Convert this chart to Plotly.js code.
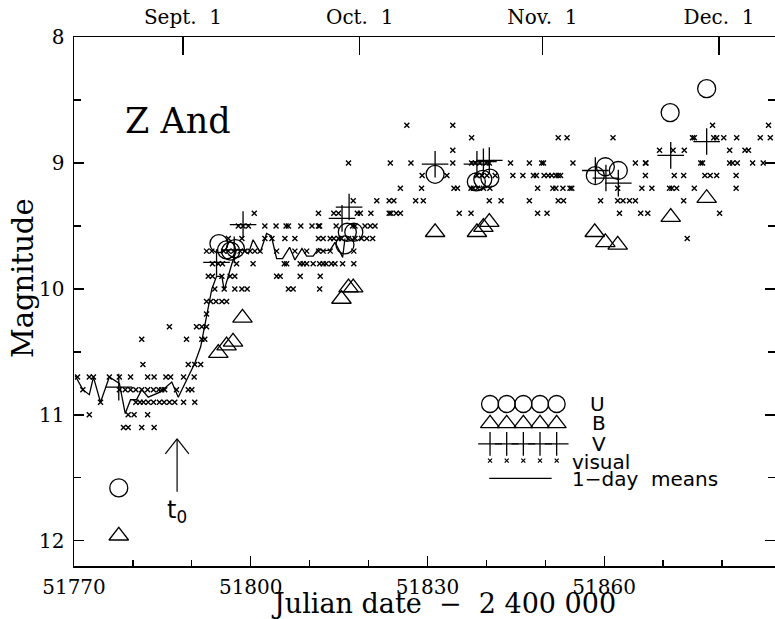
<!DOCTYPE html>
<html><head><meta charset="utf-8">
<script src="https://cdn.plot.ly/plotly-3.0.1.min.js"></script>
<style>html,body{margin:0;padding:0;background:#fff;} #chart{width:775px;height:619px;}</style>
</head><body><div id="chart"></div>
<script>
// ---------- data (JD - 2400000, magnitude) ----------
const visJD = [
 // 10.7
 51770.6,51772.6,51773.3,51776.0,51777.7,51779.6,51782.5,51783.6,51785.6,51786.4,51788.6,51790.4,
 // 10.8
 51771.5,51777.7,51778.7,51779.6,51780.5,51781.5,51782.5,51783.5,51784.4,51784.9,51785.4,51787.4,51789.4,51790.0,
 // 10.9
 51774.5,51780.5,51781.2,51781.8,51782.6,51783.5,51784.5,51785.3,51786.2,51787.1,51788.6,51790.5,
 // 11.0
 51772.6,51779.2,51780.2,51782.5,
 // 11.1
 51778.4,51779.2,51781.5,51783.6,
 // 10.6
 51781.7,51789.4,51790.5,51791.5,
 // 10.4
 51781.5,51789.1,51791.7,51792.2,
 // 10.3
 51786.2,51790.8,51791.7,51792.5,
 // 10.2
 51792.5,
 // 10.1
 51792.5,51793.2,51794.1,51795.1,51795.9,
 // 10.0
 51793.9,51795.5,51797.3,51798.5,51799.4,51806.4,51807.2,51811.7,
 // 9.9
 51792.8,51793.5,51795.1,51796.5,51797.3,51804.4,51805.0,51808.4,51811.8,
 // 9.8
 51793.5,51794.5,51795.2,51797.6,51800.4,51805.7,51806.1,51808.4,51808.9,51809.5,51810.6,51811.7,51812.3,51812.8,51813.7,51814.3,51815.6,51817.5,
 // 9.7
 51792.5,51793.4,51795.4,51796.2,51797.1,51798.2,51799.0,51799.9,51800.7,51801.6,51804.4,51807.5,51809.5,51811.5,51812.3,51813.5,51817.5,
 // 9.6
 51796.2,51798.5,51802.4,51803.6,51805.8,51807.5,51811.5,51812.3,51813.5,51814.1,51814.9,51815.4,51816.6,51817.7,51818.8,51819.7,51820.7,51874.1,
 // 9.5
 51797.9,51798.7,51799.6,51802.4,51804.3,51806.0,51806.4,51808.5,51810.4,51811.5,51811.7,51814.5,51817.3,51817.7,51819.4,51820.3,51821.1,
 // 9.4
 51800.6,51811.5,51814.1,51814.9,51818.1,51818.6,51820.4,51823.5,51823.8,51824.7,51825.4,51835.4,51837.4,51848.7,51850.3,51862.6,51866.2,51867.4,51879.6,
 // 9.3
 51817.4,51821.4,51823.5,51824.3,51828.0,51829.3,51840.5,51842.5,51847.3,51852.2,51853.1,51859.4,51862.3,51863.2,51864.3,51865.3,51873.5,
 // 9.2
 51825.4,51829.0,51834.5,51835.1,51837.4,51837.8,51838.5,51839.5,51840.6,51848.7,51851.3,51851.8,51853.0,51854.2,51854.5,51862.3,51866.4,51868.1,51871.1,51871.5,51872.3,51875.3,51882.4,
 // 9.1
 51829.1,51833.3,51838.4,51839.2,51840.1,51841.5,51844.5,51846.2,51848.0,51848.5,51849.8,51850.5,51851.1,51851.8,51852.2,51852.6,51867.0,51871.9,51873.5,51877.1,51878.0,51879.1,51882.4,
 // 9.0
 51816.6,51823.7,51827.2,51834.3,51837.5,51838.1,51838.9,51840.0,51840.5,51844.1,51847.3,51849.4,51849.7,51854.7,51865.3,51867.0,51867.1,51876.4,51876.7,51881.3,51881.8,51882.6,51885.2,51887.0,
 // 8.9
 51834.3,51869.4,51871.7,51873.6,51881.3,51883.9,51884.5,
 // 8.8
 51837.5,51852.2,51853.7,51861.5,51875.0,51875.3,51878.6,51879.1,51880.3,51882.5,51886.5,51888.2,
 // 8.7
 51826.5,51834.3,51878.4,51887.9
];
const visMag = [
 10.7,10.7,10.7,10.7,10.7,10.7,10.7,10.7,10.7,10.7,10.7,10.7,
 10.8,10.8,10.8,10.8,10.8,10.8,10.8,10.8,10.8,10.8,10.8,10.8,10.8,10.8,
 10.9,10.9,10.9,10.9,10.9,10.9,10.9,10.9,10.9,10.9,10.9,10.9,
 11.0,11.0,11.0,11.0,
 11.1,11.1,11.1,11.1,
 10.6,10.6,10.6,10.6,
 10.4,10.4,10.4,10.4,
 10.3,10.3,10.3,10.3,
 10.2,
 10.1,10.1,10.1,10.1,10.1,
 10.0,10.0,10.0,10.0,10.0,10.0,10.0,10.0,
 9.9,9.9,9.9,9.9,9.9,9.9,9.9,9.9,9.9,
 9.8,9.8,9.8,9.8,9.8,9.8,9.8,9.8,9.8,9.8,9.8,9.8,9.8,9.8,9.8,9.8,9.8,9.8,
 9.7,9.7,9.7,9.7,9.7,9.7,9.7,9.7,9.7,9.7,9.7,9.7,9.7,9.7,9.7,9.7,9.7,
 9.6,9.6,9.6,9.6,9.6,9.6,9.6,9.6,9.6,9.6,9.6,9.6,9.6,9.6,9.6,9.6,9.6,9.6,
 9.5,9.5,9.5,9.5,9.5,9.5,9.5,9.5,9.5,9.5,9.5,9.5,9.5,9.5,9.5,9.5,9.5,
 9.4,9.4,9.4,9.4,9.4,9.4,9.4,9.4,9.4,9.4,9.4,9.4,9.4,9.4,9.4,9.4,9.4,9.4,9.4,
 9.3,9.3,9.3,9.3,9.3,9.3,9.3,9.3,9.3,9.3,9.3,9.3,9.3,9.3,9.3,9.3,9.3,
 9.2,9.2,9.2,9.2,9.2,9.2,9.2,9.2,9.2,9.2,9.2,9.2,9.2,9.2,9.2,9.2,9.2,9.2,9.2,9.2,9.2,9.2,9.2,
 9.1,9.1,9.1,9.1,9.1,9.1,9.1,9.1,9.1,9.1,9.1,9.1,9.1,9.1,9.1,9.1,9.1,9.1,9.1,9.1,9.1,9.1,9.1,
 9.0,9.0,9.0,9.0,9.0,9.0,9.0,9.0,9.0,9.0,9.0,9.0,9.0,9.0,9.0,9.0,9.0,9.0,9.0,9.0,9.0,9.0,9.0,9.0,
 8.9,8.9,8.9,8.9,8.9,8.9,8.9,
 8.8,8.8,8.8,8.8,8.8,8.8,8.8,8.8,8.8,8.8,8.8,8.8,
 8.7,8.7,8.7,8.7
];
const meanJD = [51770.2,51771.5,51772.6,51773.3,51774.5,51776.0,51777.7,51778.7,51779.6,51780.6,51781.5,51782.6,51784.6,51786.6,51787.7,51789.1,51790.5,51791.5,51792.5,51793.4,51794.2,51795.1,51795.5,51796.2,51796.8,51797.6,51798.7,51799.6,51800.4,51801.6,51802.7,51803.5,51804.4,51805.4,51806.6,51807.5,51808.7,51809.5,51810.6,51811.5,51812.3,51813.5,51814.3,51815.2,51815.6,51816.0];
const meanMag = [10.69,10.80,10.84,10.70,10.90,10.70,10.75,10.99,10.88,10.88,10.80,10.86,10.82,10.74,10.86,10.72,10.59,10.46,10.21,10.00,9.90,9.90,10.01,9.89,9.80,9.69,9.69,9.72,9.61,9.71,9.56,9.58,9.76,9.76,9.67,9.77,9.68,9.74,9.74,9.68,9.70,9.69,9.63,9.71,9.75,9.60];

const uJD  = [51777.6,51794.6,51795.9,51796.6,51797.4,51816.0,51816.4,51817.5,51831.3,51838.3,51839.4,51840.6,51858.5,51860.2,51862.4,51871.2,51877.4];
const uMag = [11.58,9.64,9.69,9.70,9.68,9.65,9.55,9.55,9.09,9.15,9.13,9.12,9.10,9.03,9.06,8.60,8.41];
const bJD  = [51777.6,51794.5,51795.9,51797.0,51798.6,51815.4,51816.6,51817.4,51831.3,51838.4,51839.5,51840.5,51858.4,51860.2,51862.3,51871.3,51877.4];
const bMag = [11.96,10.51,10.45,10.42,10.23,10.08,9.99,9.99,9.55,9.55,9.51,9.47,9.55,9.63,9.65,9.43,9.28];
const vJD  = [51777.6,51794.2,51797.2,51798.7,51815.5,51816.7,51831.3,51838.4,51839.5,51840.5,51858.5,51860.3,51862.4,51871.3,51877.4];
const vMag = [10.78,9.79,9.69,9.49,9.44,9.35,9.01,9.01,8.99,8.98,9.06,9.12,9.16,8.94,8.83];

const monthTicks = [51788.5,51818.5,51849.5,51879.5];
const monthLabels = ['Sept.\u00a0 1','Oct.\u00a0 1','Nov.\u00a0 1','Dec.\u00a0 1'];
const t0JD = 51787.5;

// legend key slots
const keySlots = [1,2,3,4,5];
const keyLine = [0.95,4.7];
const keyNames = ['U','B','V','visual','1\u2212day\u00a0 means'];

// ---------- layout helpers ----------
const W=775,H=619,L=74,R=0,T=37,B=53;
const px = x => (x-L)/(W-L-R);
const py = y => (H-B-y)/(H-T-B);
const serif = 'DejaVu Serif';
const sans = 'DejaVu Sans';
const K = '#000';
const tickFont = {family:serif, size:20, color:K};

const traces = [
 {x: visJD, y: visMag, type:'scatter', mode:'markers',
  marker:{symbol:'x-thin', size:5, color:K, line:{color:K, width:1.4}}},
 {x: meanJD, y: meanMag, xaxis:'x2', yaxis:'y', type:'scatter', mode:'lines', line:{color:K, width:1.3}},
 {x: uJD, y: uMag, type:'scatter', mode:'markers', cliponaxis:false,
  marker:{symbol:'circle-open', size:18, color:K, line:{color:K, width:1.3}}},
 {x: bJD, y: bMag, type:'scatter', mode:'markers', cliponaxis:false,
  marker:{symbol:'triangle-up-open', size:17, color:K, line:{color:K, width:1.3}}},
 {x: vJD, y: vMag, type:'scatter', mode:'markers', cliponaxis:false,
  marker:{symbol:'cross-thin', size:19, color:K, line:{color:K, width:1.3}}},
 // legend key
 {x: keySlots, y: keySlots.map(()=>1), xaxis:'x3', yaxis:'y3', mode:'markers', cliponaxis:false,
  marker:{symbol:'circle-open', size:17, color:K, line:{color:K, width:1.3}}},
 {x: keySlots, y: keySlots.map(()=>2.05), xaxis:'x3', yaxis:'y3', mode:'markers', cliponaxis:false,
  marker:{symbol:'triangle-up-open', size:16.5, color:K, line:{color:K, width:1.3}}},
 {x: keySlots, y: keySlots.map(()=>3.15), xaxis:'x3', yaxis:'y3', mode:'markers', cliponaxis:false,
  marker:{symbol:'cross-thin', size:17, color:K, line:{color:K, width:1.3}}},
 {x: keySlots, y: keySlots.map(()=>4.05), xaxis:'x3', yaxis:'y3', mode:'markers', cliponaxis:false,
  marker:{symbol:'x-thin', size:4, color:K, line:{color:K, width:1.2}}},
 {x: keyLine, y: keyLine.map(()=>5), xaxis:'x3', yaxis:'y3', mode:'lines', cliponaxis:false,
  line:{color:K, width:1.2}}
];

const rowPx = [404, 423.3, 444.3, 462, 479];
const labelPx = [588, 590, 590, 570, 570];
const ann = (o) => Object.assign({xref:'paper', yref:'paper', showarrow:false, xanchor:'center', yanchor:'middle'}, o);
const annotations = [
 ann({text:'Z And', x:px(178), y:py(121), font:{family:serif, size:35, color:K}}),
 ann({text:'Magnitude', x:px(23), y:py(278), textangle:-90, font:{family:serif, size:29, color:K}}),
 ann({text:'Julian date\u00a0 \u2212\u00a0 2 400 000', x:px(443), y:py(603), font:{family:serif, size:27, color:K}}),
 ann({text:'t<sub>0</sub>', xref:'x', yref:'y', x:t0JD, y:11.77, font:{family:sans, size:24, color:K}})
];
keyNames.forEach((n,i)=>annotations.push(ann({text:n, x:px(labelPx[i]), y:py(rowPx[i]),
  xanchor:'left', font:{family:sans, size:20, color:K}})));

const shapes = [
 {type:'line', xref:'x', yref:'y', x0:t0JD, x1:t0JD, y0:11.61, y1:11.19, line:{color:K, width:1.2}},
 {type:'line', xref:'x', yref:'y', x0:t0JD-2.0, x1:t0JD, y0:11.31, y1:11.19, line:{color:K, width:1.2}},
 {type:'line', xref:'x', yref:'y', x0:t0JD+2.0, x1:t0JD, y0:11.31, y1:11.19, line:{color:K, width:1.2}}
];

const layout = {
 width:W, height:H, margin:{l:L, r:R, t:T, b:B, pad:0},
 paper_bgcolor:'#fff', plot_bgcolor:'rgba(0,0,0,0)', showlegend:false,
 font:{family:serif, color:K},
 xaxis:{range:[51770,51889], tick0:51770, dtick:30, tickformat:'d', ticks:'inside', ticklen:10, tickwidth:1.3, tickcolor:K,
   showline:true, linecolor:K, linewidth:1.5, showgrid:false, zeroline:false, mirror:false,
   tickfont:tickFont, ticklabelstandoff:2,
   minor:{dtick:10, tick0:51770, ticks:'inside', ticklen:6, tickwidth:1.3, tickcolor:K, showgrid:false}},
 xaxis2:{overlaying:'x', side:'top', anchor:'y', range:[51770,51889], tickmode:'array', tickvals:monthTicks, ticktext:monthLabels,
   ticks:'inside', ticklen:18, tickwidth:1.3, tickcolor:K, showline:true, linecolor:K, linewidth:1.5,
   showgrid:false, zeroline:false, tickfont:tickFont, ticklabelstandoff:4},
 yaxis:{range:[12.2,8], tick0:8, dtick:1, ticks:'inside', ticklen:10, tickwidth:1.3, tickcolor:K,
   showline:true, linecolor:K, linewidth:1.5, showgrid:false, zeroline:false, mirror:'ticks',
   tickfont:tickFont, ticklabelstandoff:4,
   minor:{dtick:0.5, tick0:8, ticks:'inside', ticklen:7, tickwidth:1.3, tickcolor:K, showgrid:false}},
 xaxis3:{domain:[px(481.7), px(565)], range:[0.5,5.5], anchor:'y3', visible:false, fixedrange:true},
 yaxis3:{domain:[py(487.6), py(394.7)], range:[5.5,0.5], anchor:'x3', visible:false, fixedrange:true},
 annotations, shapes
};

Plotly.newPlot('chart', traces, layout, {displayModeBar:false, staticPlot:true});
</script></body></html>
